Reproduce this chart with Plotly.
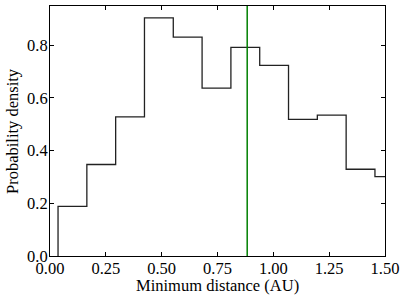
import plotly.graph_objects as go

# Histogram data
bin_edges = [0.036, 0.165, 0.294, 0.423, 0.552, 0.681, 0.810, 0.939, 1.068, 1.197, 1.326, 1.455, 1.584]
densities = [0.188, 0.347, 0.528, 0.903, 0.830, 0.637, 0.791, 0.723, 0.518, 0.534, 0.329, 0.301]
marker_x = 0.883

x_ticks = [0.0, 0.25, 0.5, 0.75, 1.0, 1.25, 1.5]
y_ticks = [0.0, 0.2, 0.4, 0.6, 0.8]

# Build step outline (matplotlib histtype='step' style)
sx = [bin_edges[0]]
sy = [0.0]
for i, h in enumerate(densities):
    sx += [bin_edges[i], bin_edges[i + 1]]
    sy += [h, h]
sx.append(bin_edges[-1])
sy.append(0.0)

ymax = max(densities) * 1.05

fig = go.Figure()
fig.add_trace(go.Scatter(x=sx, y=sy, mode="lines",
                         line=dict(color="#222222", width=1.3),
                         hoverinfo="skip", showlegend=False))
fig.add_trace(go.Scatter(x=[marker_x, marker_x], y=[0, ymax], mode="lines",
                         line=dict(color="#008000", width=1.5),
                         hoverinfo="skip", showlegend=False))

font = dict(family="Liberation Serif, Times New Roman, serif", size=16.5, color="black")
axis_common = dict(showgrid=False, zeroline=False, showline=True, linecolor="black",
                   linewidth=1, mirror="ticks", ticks="inside", ticklen=4,
                   tickcolor="black", tickwidth=1, tickfont=font, automargin=False)

fig.update_layout(
    width=407, height=301,
    margin=dict(l=50, r=22, t=6, b=45, autoexpand=False),
    paper_bgcolor="white", plot_bgcolor="white",
    font=font,
    xaxis=dict(range=[0, 1.5], tickvals=x_ticks, ticktext=[f"{v:.2f}" for v in x_ticks],
               ticklabelstandoff=-3, **axis_common),
    yaxis=dict(range=[0, ymax], tickvals=y_ticks, ticktext=[f"{v:.1f}" for v in y_ticks],
               ticklabelstandoff=-2, **axis_common),
    annotations=[
        dict(text="Minimum distance (AU)", xref="paper", yref="paper", x=0.5, y=0,
             yshift=-29, xanchor="center", yanchor="middle", showarrow=False, font=font),
        dict(text="Probability density", xref="paper", yref="paper", x=0, y=0.5,
             xshift=-38, xanchor="center", yanchor="middle", textangle=-90,
             showarrow=False, font=font),
    ],
)

fig.write_html("out.html", config={"displayModeBar": False},
               post_script="document.body.style.margin='0';")
